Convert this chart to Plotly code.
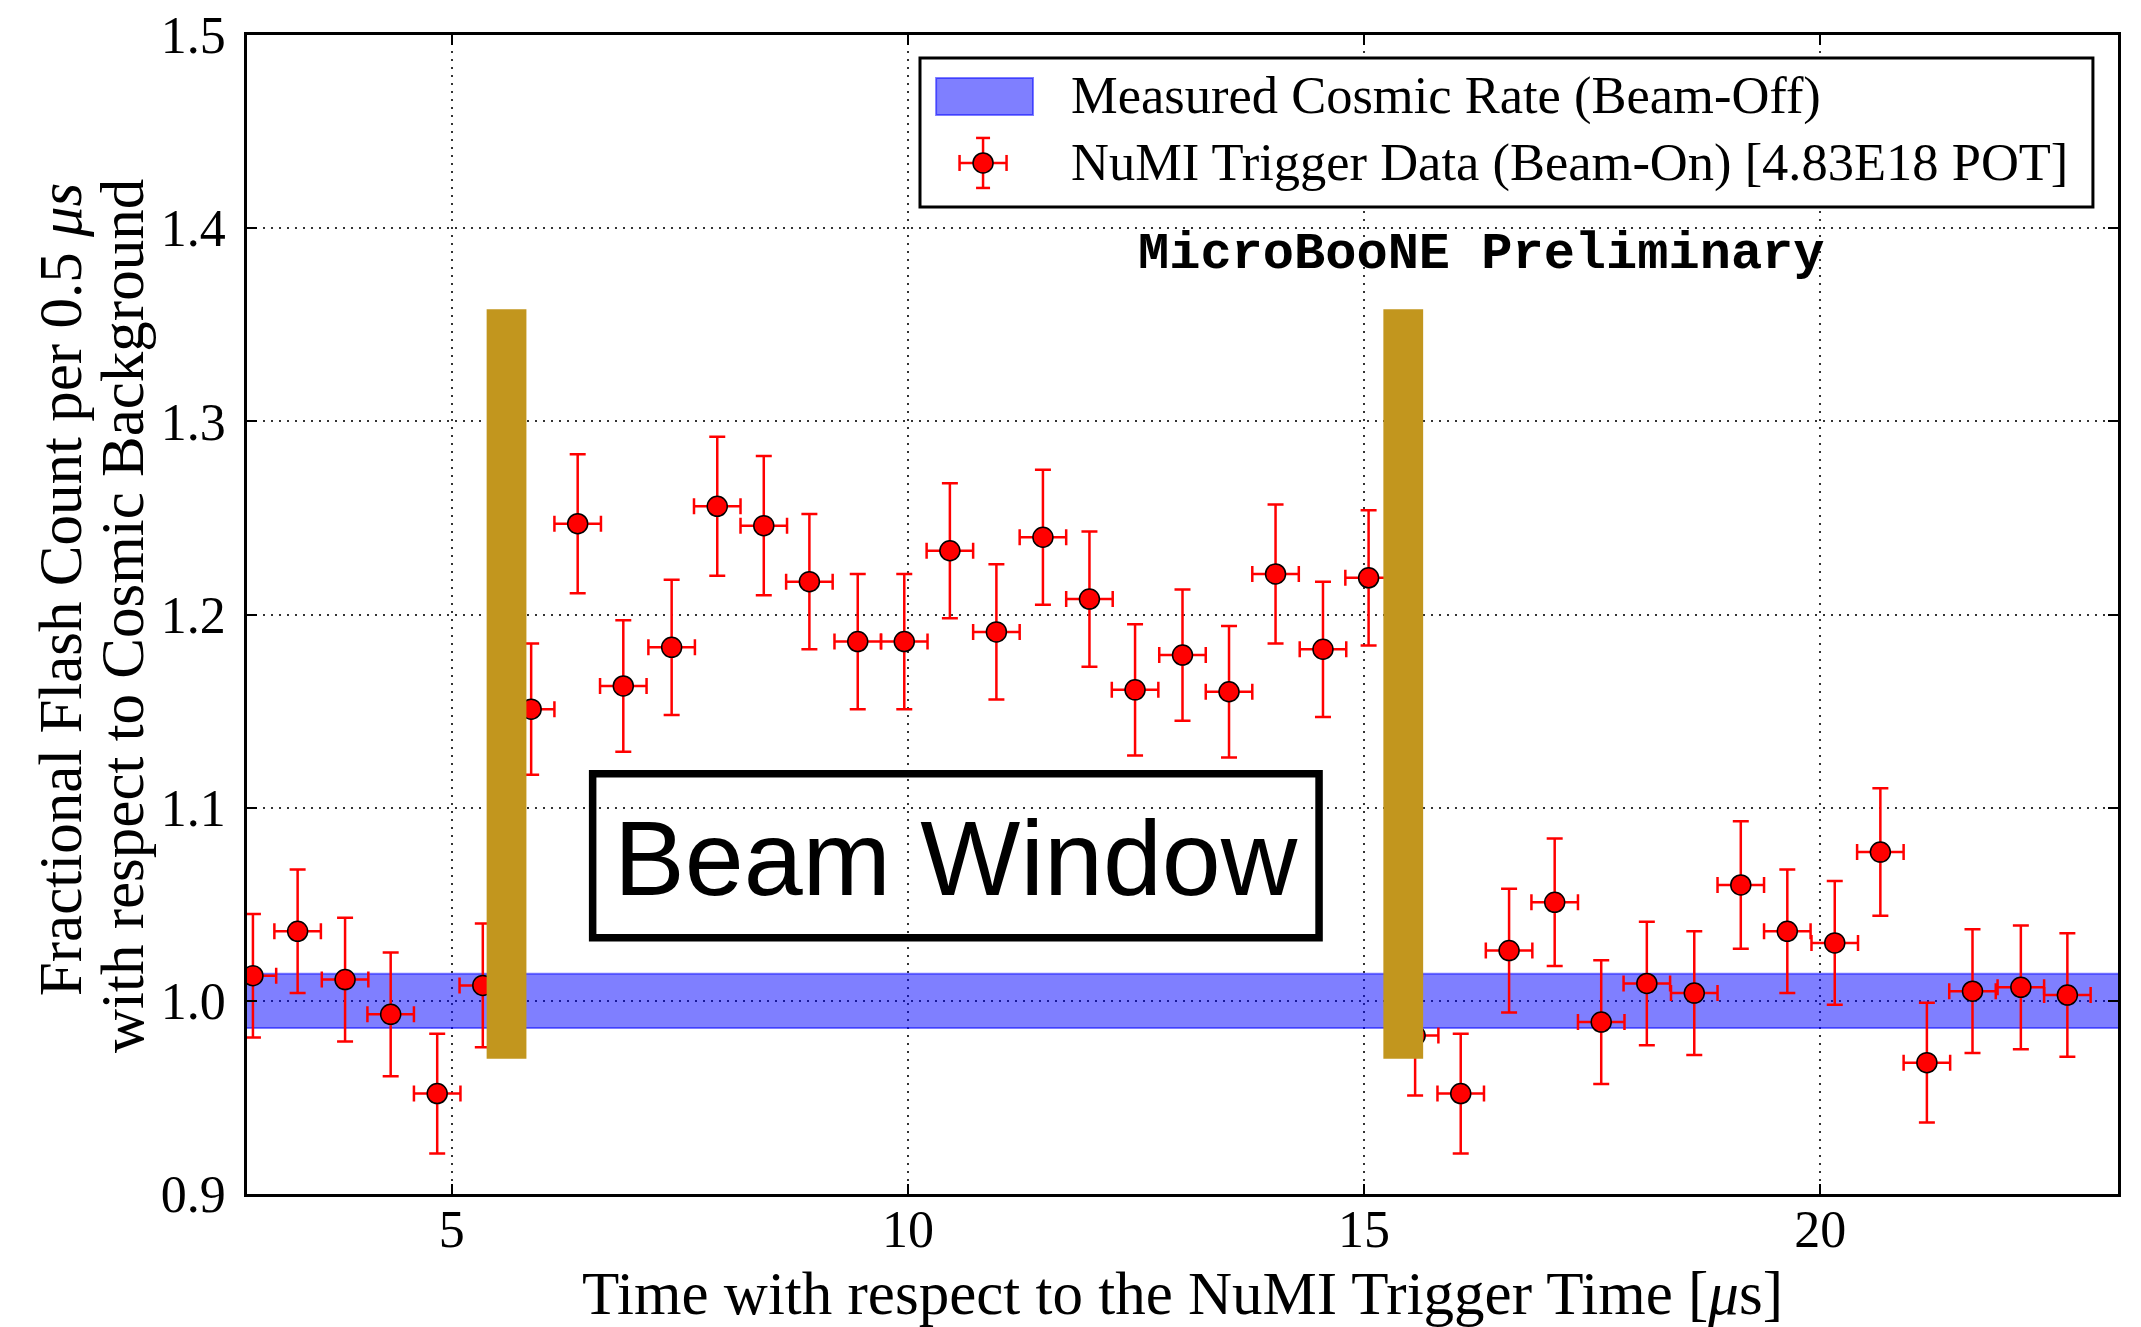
import plotly.graph_objects as go

# Bin centres of the beam-on flash-time histogram [µs]
time_us = [2.82, 3.31, 3.83, 4.33, 4.84, 5.34, 5.87, 6.38, 6.88, 7.41,
           7.91, 8.42, 8.92, 9.45, 9.96, 10.46, 10.97, 11.48, 11.99, 12.49,
           13.01, 13.52, 14.03, 14.55, 15.05, 15.56, 16.06, 16.59, 17.09, 17.60,
           18.10, 18.62, 19.13, 19.64, 20.16, 20.66, 21.17, 21.67, 22.20, 22.71]

# Flash count per bin relative to the cosmic (beam-off) expectation
flash_ratio = [1.013, 1.036, 1.011, 0.993, 0.952, 1.008, 1.151, 1.247, 1.163, 1.183,
               1.256, 1.246, 1.217, 1.186, 1.186, 1.233, 1.191, 1.240, 1.208, 1.161,
               1.179, 1.160, 1.221, 1.182, 1.219, 0.982, 0.952, 1.026, 1.051, 0.989,
               1.009, 1.004, 1.060, 1.036, 1.030, 1.077, 0.968, 1.005, 1.007, 1.003]

# Statistical uncertainty on each ratio
flash_ratio_err = [0.032, 0.032, 0.032, 0.032, 0.031, 0.032, 0.034, 0.036, 0.034, 0.035,
                   0.036, 0.036, 0.035, 0.035, 0.035, 0.035, 0.035, 0.035, 0.035, 0.034,
                   0.034, 0.034, 0.036, 0.035, 0.035, 0.031, 0.031, 0.032, 0.033, 0.032,
                   0.032, 0.032, 0.033, 0.032, 0.032, 0.033, 0.031, 0.032, 0.032, 0.032]

# Half width of a time bin [µs]
bin_half_width = 0.255

# Beam-off cosmic rate (normalised) and its uncertainty
cosmic_rate = 1.0
cosmic_rate_err = 0.014

# Start and end of the NuMI beam spill [µs]
beam_window_edges = [5.60, 15.43]

# Axis limits
x_limits = [2.755, 23.265]
y_limits = [0.9, 1.5]
x_ticks = [5, 10, 15, 20]
y_ticks = [0.9, 1.0, 1.1, 1.2, 1.3, 1.4, 1.5]

SERIF = "Liberation Serif"
BAND_FILL = "rgba(0,0,255,0.5)"
GOLD = "#C2961E"

fig = go.Figure()

# Cosmic-rate band across the full time range
fig.add_trace(go.Scatter(
    x=x_limits, y=[cosmic_rate - cosmic_rate_err] * 2,
    mode="lines", line=dict(color=BAND_FILL, width=2),
    hoverinfo="skip", showlegend=False,
))
fig.add_trace(go.Scatter(
    x=x_limits, y=[cosmic_rate + cosmic_rate_err] * 2,
    mode="lines", line=dict(color=BAND_FILL, width=2),
    fill="tonexty", fillcolor=BAND_FILL,
    name="Measured Cosmic Rate (Beam-Off)", showlegend=False,
))

# Beam-on data points with error bars
fig.add_trace(go.Scatter(
    x=time_us, y=flash_ratio, mode="markers",
    name="NuMI Trigger Data (Beam-On) [4.83E18 POT]",
    marker=dict(color="#FF0000", size=20, line=dict(color="black", width=1.5)),
    error_y=dict(type="data", array=flash_ratio_err, color="#FF0000",
                 thickness=2.5, width=8),
    error_x=dict(type="constant", value=bin_half_width, color="#FF0000",
                 thickness=2.5, width=8),
    showlegend=False,
))

shapes = []

# Gold markers at the beam-window edges
bar_half = 0.218
for edge in beam_window_edges:
    shapes.append(dict(type="rect", xref="x", yref="y",
                       x0=edge - bar_half, x1=edge + bar_half, y0=0.970, y1=1.358,
                       fillcolor=GOLD, line=dict(width=0), layer="above"))

# "Beam Window" label frame
shapes.append(dict(type="rect", xref="x", yref="y",
                   x0=6.544, x1=14.507, y0=1.0326, y1=1.1176,
                   line=dict(color="black", width=7.5), fillcolor="rgba(0,0,0,0)",
                   layer="above"))

# Legend frame
shapes.append(dict(type="rect", xref="paper", yref="paper",
                   x0=0.3597, x1=0.9866, y0=0.8516, y1=0.9802,
                   line=dict(color="black", width=3), fillcolor="white", layer="above"))
# Legend patch for the cosmic band
shapes.append(dict(type="rect", xref="paper", yref="paper",
                   x0=0.3683, x1=0.4201, y0=0.9310, y1=0.9629,
                   line=dict(color=BAND_FILL, width=2), fillcolor=BAND_FILL, layer="above"))

# Legend glyph for the data series: error bars + marker
lx, ly = 0.3934, 0.8896
def pix_line(x0, x1, y0, y1, color="#FF0000", width=2.5):
    return dict(type="line", xref="paper", yref="paper",
                xsizemode="pixel", ysizemode="pixel", xanchor=lx, yanchor=ly,
                x0=x0, x1=x1, y0=y0, y1=y1,
                line=dict(color=color, width=width), layer="above")

shapes += [
    pix_line(0, 0, -25, 25),
    pix_line(-7, 7, 25, 25),
    pix_line(-7, 7, -25, -25),
    pix_line(-23.5, 23.5, 0, 0),
    pix_line(-23.5, -23.5, -8, 8),
    pix_line(23.5, 23.5, -8, 8),
    dict(type="circle", xref="paper", yref="paper",
         xsizemode="pixel", ysizemode="pixel", xanchor=lx, yanchor=ly,
         x0=-10, x1=10, y0=-10, y1=10,
         fillcolor="#FF0000", line=dict(color="black", width=1.5), layer="above"),
]

annotations = [
    dict(text="Measured Cosmic Rate (Beam-Off)", xref="paper", yref="paper",
         x=0.4393, y=0.9482, xanchor="left", yanchor="middle", showarrow=False,
         font=dict(family=SERIF, size=52.5, color="black")),
    dict(text="NuMI Trigger Data (Beam-On) [4.83E18 POT]", xref="paper", yref="paper",
         x=0.4393, y=0.8896, xanchor="left", yanchor="middle", showarrow=False,
         font=dict(family=SERIF, size=52.5, color="black")),
    dict(text="<b>MicroBooNE Preliminary</b>", xref="paper", yref="paper",
         x=0.660, y=0.811, xanchor="center", yanchor="middle", showarrow=False,
         font=dict(family="Liberation Mono", size=52, color="black")),
    dict(text="Beam Window", xref="x", yref="y",
         x=10.525, y=1.074, xanchor="center", yanchor="middle", showarrow=False,
         font=dict(family="Liberation Sans", size=106, color="black")),
    # Two-line y-axis title
    dict(text="Fractional Flash Count per 0.5 <i>μs</i>", xref="paper", yref="paper",
         x=-0.0999, y=0.5211, xanchor="center", yanchor="middle", textangle=-90,
         showarrow=False, font=dict(family=SERIF, size=61, color="black")),
    dict(text="with respect to Cosmic Background", xref="paper", yref="paper",
         x=-0.0668, y=0.4987, xanchor="center", yanchor="middle", textangle=-90,
         showarrow=False, font=dict(family=SERIF, size=61, color="black")),
]

axis_common = dict(
    showline=True, linecolor="black", linewidth=2.5, mirror="ticks",
    ticks="inside", ticklen=10, tickwidth=2, tickcolor="black",
    showgrid=True, gridcolor="#333333", gridwidth=1.5, griddash="2px,6px",
    zeroline=False, automargin=False,
    tickfont=dict(family=SERIF, size=52, color="black"),
)

fig.update_layout(
    width=2141, height=1327,
    margin=dict(l=247, r=23, t=35, b=133),
    plot_bgcolor="white", paper_bgcolor="white",
    showlegend=False,
    font=dict(family=SERIF, color="black"),
    shapes=shapes, annotations=annotations,
    xaxis=dict(range=x_limits, tickvals=x_ticks, ticklabelstandoff=-12,
               title=dict(text="Time with respect to the NuMI Trigger Time [<i>μ</i>s]",
                          font=dict(family=SERIF, size=61, color="black"), standoff=22),
               **axis_common),
    yaxis=dict(range=y_limits, tickvals=y_ticks, tickformat=".1f", ticklabelstandoff=8,
               **axis_common),
)

fig.write_html("out.html")
